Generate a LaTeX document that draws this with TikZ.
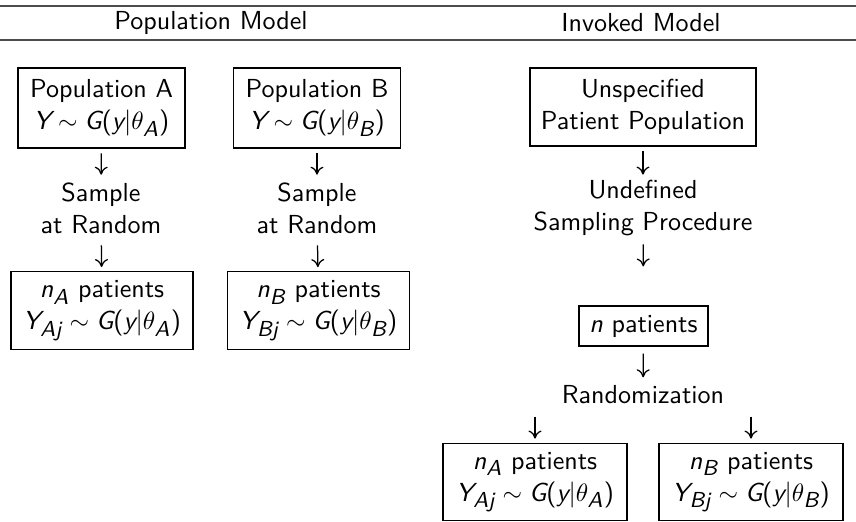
\documentclass[tikz,border=0pt]{standalone}
\renewcommand{\familydefault}{\sfdefault}
\usepackage[italic,nosmalldelims]{mathastext}
\usepackage{tikz}
\usetikzlibrary{arrows.meta,positioning}

\begin{document}
\begin{tikzpicture}[
    x=0.014019cm, y=-0.014019cm,
    font=\fontsize{10.4}{12.8}\selectfont,
    box/.style={rectangle, draw, line width=0.5pt, inner xsep=2pt, inner ysep=3.5pt, align=center, minimum height=30pt},
    step text/.style={inner sep=0pt, align=center},
    arrow/.style={-{To[length=3.2pt,width=5.2pt]}, line width=0.5pt}
]
    \useasboundingbox (0,0) rectangle (856,521);

    % header rules
    \draw[line width=0.8pt, black!70] (0,6) -- (856,6);
    \draw[line width=0.8pt, black!70] (0,40) -- (856,40);
    \node (hpop) at (211,23) {Population Model};
    \node (hinv) at (641,23) {Invoked Model};

    % population model
    \node[box, minimum width=66.6pt, minimum height=31.9pt] (popA) at (101.5,108) {Population A\\$Y\sim G(y|\theta_A)$};
    \node[box, minimum width=66.6pt, minimum height=31.9pt] (popB) at (317,108) {Population B\\$Y\sim G(y|\theta_B)$};
    \node[step text] (smpA) at (101,208) {Sample\\at Random};
    \node[step text] (smpB) at (317,208) {Sample\\at Random};
    \node[box, minimum width=72.6pt] (nA) at (102,310.5) {$n_A$ patients\\$Y_{Aj}\sim G(y|\theta_A)$};
    \node[box, minimum width=72.6pt] (nB) at (318.5,310.5) {$n_B$ patients\\$Y_{Bj}\sim G(y|\theta_B)$};

    \draw[arrow, shorten <=1.9pt, shorten >=2.9pt] (popA) -- (smpA);
    \draw[arrow, shorten <=1.9pt, shorten >=2.9pt] (popB) -- (smpB);
    \draw[arrow, shorten <=4.5pt, shorten >=1.6pt] (smpA) -- (nA);
    \draw[arrow, shorten <=4.5pt, shorten >=1.6pt] (smpB) -- (nB);

    % invoked model
    \node[box, minimum width=90.1pt, minimum height=31.1pt] (unsp) at (643,107) {Unspecified\\Patient Population};
    \node[step text] (undef) at (643,208) {Undefined\\Sampling Procedure};
    \node[box, minimum width=51.5pt, minimum height=16pt] (npat) at (643.5,326) {$n$ patients};
    \node[step text] (rand) at (643,395) {Randomization};
    \node[box, minimum width=73.4pt, minimum height=30.3pt] (outA) at (535,482) {$n_A$ patients\\$Y_{Aj}\sim G(y|\theta_A)$};
    \node[box, minimum width=73.4pt, minimum height=30.3pt] (outB) at (751,482) {$n_B$ patients\\$Y_{Bj}\sim G(y|\theta_B)$};

    \draw[arrow, shorten <=1.9pt, shorten >=2pt] (unsp) -- (undef);
    \draw[arrow, shorten <=3.2pt, shorten >=15.5pt] (undef) -- (npat);
    \draw[arrow, shorten <=2.8pt, shorten >=3.2pt] (npat) -- (rand);
    \draw[arrow, shorten <=4.8pt, shorten >=1.6pt] (rand.south -| outA.north) -- (outA.north);
    \draw[arrow, shorten <=4.8pt, shorten >=1.6pt] (rand.south -| outB.north) -- (outB.north);
\end{tikzpicture}
\end{document}
